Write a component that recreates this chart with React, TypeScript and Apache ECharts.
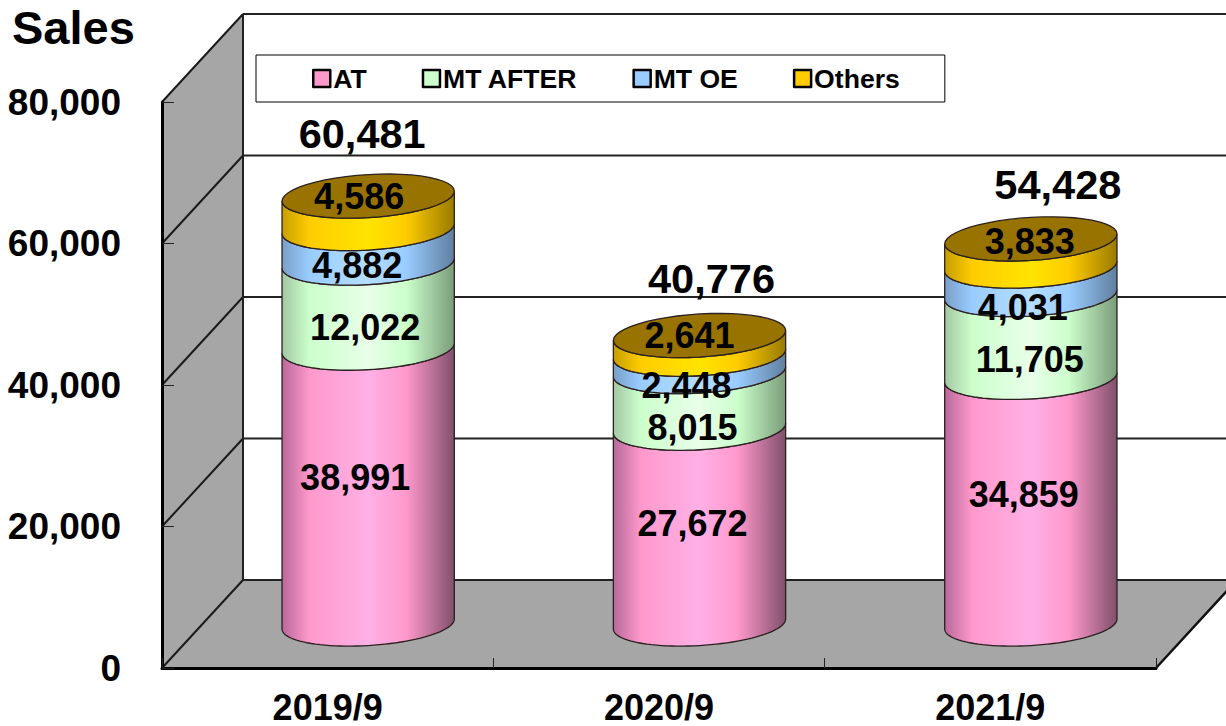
import React, { useEffect, useRef } from "react";
import * as echarts from "echarts";

const categories = ["2019/9", "2020/9", "2021/9"];
const seriesNames = ["AT", "MT AFTER", "MT OE", "Others"];
const atValues = [38991, 27672, 34859];
const mtAfterValues = [12022, 8015, 11705];
const mtOeValues = [4882, 2448, 4031];
const othersValues = [4586, 2641, 3833];
const totals = [60481, 40776, 54428];
const yTicks = [0, 20000, 40000, 60000, 80000];

// hand placed label nudges, in pixels, one [dx, dy] per category
const atNudge = [[-13, -9], [-7, -3], [-7, -6]];
const mtAfterNudge = [[-3, 22], [-7, 28], [-1, 24]];
const mtOeNudge = [[-11, 20], [-13, 23], [-8, 27]];
const othersNudge = [[-9, -16], [-10, -9], [-1, -11]];
const totalNudge = [[-6, -63], [12, -57], [27, -54]];

const FONT = "'Liberation Sans', Arial, sans-serif";
const DEPTH_X = 81;
const DEPTH_Y = -88;

const grad = (stops: [number, string][]) =>
  new echarts.graphic.LinearGradient(0, 0, 1, 0, stops.map(([offset, color]) => ({ offset, color })));

const fills = [
  () => grad([[0, "#b8689a"], [0.16, "#ff99cc"], [0.5, "#ffb0e6"], [0.72, "#ff99cc"], [1, "#80506c"]]),
  () => grad([[0, "#a3c7a3"], [0.16, "#ccffcc"], [0.5, "#e8ffe8"], [0.72, "#ccffcc"], [1, "#7a9c7a"]]),
  () => grad([[0, "#7a9fc8"], [0.16, "#99ccff"], [0.5, "#b5deff"], [0.72, "#99ccff"], [1, "#607f9f"]]),
  () => grad([[0, "#c79e00"], [0.16, "#ffcc00"], [0.5, "#ffe400"], [0.72, "#ffcc00"], [1, "#997a00"]]),
];
const legendColors = ["#ff99cc", "#ccffcc", "#99ccff", "#ffcc00"];
const TOP_COLOR = "#997300";
const EDGE = "#2b2020";

function ringPoint(cx: number, cy: number, rx: number, t: number) {
  return [cx + rx * Math.cos(t), cy - (rx * 0.058) * Math.cos(t) - (rx * 0.25) * Math.sin(t)];
}
function arc(cx: number, cy: number, rx: number, from: number, to: number) {
  const pts: number[][] = [];
  for (let i = 0; i <= 48; i++) pts.push(ringPoint(cx, cy, rx, from + ((to - from) * i) / 48));
  return pts;
}

function makeSegment(idx: number, nudges: number[][]) {
  return (_params: any, api: any) => {
    const cat = api.value(0);
    const start = api.value(1);
    const end = api.value(2);
    const band = api.size([1, 0])[0];
    const rx = band * 0.26;
    const base = api.coord([cat, start]);
    const top = api.coord([cat, end]);
    const mid = api.coord([cat, (start + end) / 2]);
    const cx = base[0] + DEPTH_X / 2;
    const y0 = base[1] + DEPTH_Y / 2;
    const y1 = top[1] + DEPTH_Y / 2;
    const ym = mid[1] + DEPTH_Y / 2;
    const side = [...arc(cx, y1, rx, Math.PI, 2 * Math.PI), ...arc(cx, y0, rx, 2 * Math.PI, Math.PI)];
    const children: any[] = [
      {
        type: "polygon",
        shape: { points: side },
        style: { fill: fills[idx](), stroke: EDGE, lineWidth: 1.3 },
      },
    ];
    if (idx === 3) {
      children.push({
        type: "polygon",
        shape: { points: arc(cx, y1, rx, 0, 2 * Math.PI) },
        style: { fill: TOP_COLOR, stroke: EDGE, lineWidth: 1.3 },
      });
    }
    const n = nudges[cat];
    children.push({
      type: "text",
      z2: 100,
      style: {
        text: api.value(3).toLocaleString("en-US"),
        x: cx + n[0],
        y: ym + n[1],
        align: "center",
        verticalAlign: "middle",
        font: `bold 36px ${FONT}`,
        fill: "#000",
      },
    });
    return { type: "group", children };
  };
}

const renderFrame = (params: any, api: any) => {
  const g = params.coordSys;
  const far = g.x + g.width + DEPTH_X;
  const left = g.x;
  const bottom = g.y + g.height;
  const bx = left + DEPTH_X;
  const children: any[] = [
    {
      type: "polygon",
      shape: { points: [[left, bottom], [bx, bottom + DEPTH_Y], [bx, g.y + DEPTH_Y], [left, g.y]] },
      style: { fill: "#a6a6a6", stroke: "none" },
    },
    {
      type: "polygon",
      shape: { points: [[left, bottom], [bx, bottom + DEPTH_Y], [far, bottom + DEPTH_Y], [g.x + g.width, bottom]] },
      style: { fill: "#a6a6a6", stroke: "none" },
    },
  ];
  yTicks.forEach((t) => {
    const y = api.coord([0, t])[1];
    children.push({
      type: "line",
      shape: { x1: left, y1: y, x2: bx, y2: y + DEPTH_Y },
      style: { stroke: "#1a1a1a", lineWidth: 2 },
    });
    children.push({
      type: "line",
      shape: { x1: bx, y1: y + DEPTH_Y, x2: far, y2: y + DEPTH_Y },
      style: { stroke: "#222", lineWidth: 2 },
    });
  });
  children.push({
    type: "line",
    shape: { x1: bx, y1: g.y + DEPTH_Y, x2: bx, y2: bottom + DEPTH_Y },
    style: { stroke: "#222", lineWidth: 2 },
  });
  children.push({
    type: "line",
    shape: { x1: g.x + g.width, y1: bottom, x2: far, y2: bottom + DEPTH_Y },
    style: { stroke: "#111", lineWidth: 2.5 },
  });
  return { type: "group", children };
};

const renderTotal = (_params: any, api: any) => {
  const cat = api.value(0);
  const p = api.coord([cat, api.value(1)]);
  const n = totalNudge[cat];
  return {
    type: "text",
    style: {
      text: api.value(1).toLocaleString("en-US"),
      x: p[0] + DEPTH_X / 2 + n[0],
      y: p[1] + DEPTH_Y / 2 + n[1],
      align: "center",
      verticalAlign: "middle",
      font: `bold 41.5px ${FONT}`,
      fill: "#000",
    },
  };
};

export default function App() {
  const ref = useRef<HTMLDivElement>(null);
  useEffect(() => {
    document.body.style.margin = "0";
    const chart = echarts.init(ref.current!, null, { renderer: "svg" });
    const stacks = [atValues, mtAfterValues, mtOeValues, othersValues];
    const nudges = [atNudge, mtAfterNudge, mtOeNudge, othersNudge];
    const cumulative = [0, 0, 0];
    const segmentSeries = stacks.map((vals, i) => {
      const data = vals.map((v, c) => {
        const row = [c, cumulative[c], cumulative[c] + v, v];
        cumulative[c] += v;
        return row;
      });
      return {
        type: "custom",
        name: seriesNames[i],
        coordinateSystem: "cartesian2d",
        renderItem: makeSegment(i, nudges[i]),
        data,
        z: 3,
        silent: true,
        itemStyle: { color: legendColors[i] },
        encode: { x: 0, y: 2 },
      };
    });
    chart.setOption({
      animation: false,
      title: {
        text: "Sales",
        left: 7,
        top: -1,
        textStyle: { fontFamily: FONT, fontWeight: "bold", fontSize: 47, color: "#000" },
      },
      legend: {
        left: 256,
        top: 55,
        orient: "horizontal",
        padding: [10, 45, 10, 56],
        itemGap: 55,
        itemWidth: 17,
        itemHeight: 17,
        backgroundColor: "#fff",
        borderColor: "#000",
        borderWidth: 1,
        borderRadius: 0,
        selectedMode: false,
        icon: "rect",
        textStyle: { fontFamily: FONT, fontWeight: "bold", fontSize: 26.6, color: "#000", padding: [0, 0, 0, -2] },
        data: seriesNames.map((name, i) => ({
          name,
          itemStyle: { color: legendColors[i], borderColor: "#000", borderWidth: 2.5, borderJoin: "round" },
        })),
      },
      grid: { left: 162, top: 102, width: 994, height: 566, containLabel: false },
      xAxis: {
        type: "category",
        data: categories,
        z: 5,
        axisLine: { show: true, lineStyle: { color: "#000", width: 3 } },
        axisTick: { show: true, inside: true, length: 10, alignWithLabel: false, lineStyle: { color: "#222", width: 1 } },
        axisLabel: { margin: 24, lineHeight: 30, fontFamily: FONT, fontWeight: "bold", fontSize: 36, color: "#000" },
        splitLine: { show: false },
      },
      yAxis: {
        type: "value",
        min: 0,
        max: 80000,
        interval: 20000,
        z: 5,
        axisLine: { show: true, lineStyle: { color: "#000", width: 3 } },
        axisTick: { show: true, inside: true, length: 12, lineStyle: { color: "#222", width: 1 } },
        axisLabel: {
          margin: 41,
          fontFamily: FONT,
          fontWeight: "bold",
          fontSize: 37,
          color: "#000",
          formatter: (v: number) => v.toLocaleString("en-US"),
        },
        splitLine: { show: false },
      },
      series: [
        {
          type: "custom",
          name: "frame",
          coordinateSystem: "cartesian2d",
          renderItem: renderFrame,
          data: [[0, 0]],
          z: 1,
          silent: true,
        },
        ...segmentSeries,
        {
          type: "custom",
          name: "total",
          coordinateSystem: "cartesian2d",
          renderItem: renderTotal,
          data: totals.map((t, c) => [c, t]),
          z: 4,
          silent: true,
        },
      ],
    });
    return () => chart.dispose();
  }, []);
  return <div ref={ref} style={{ width: 1226, height: 726 }} />;
}
